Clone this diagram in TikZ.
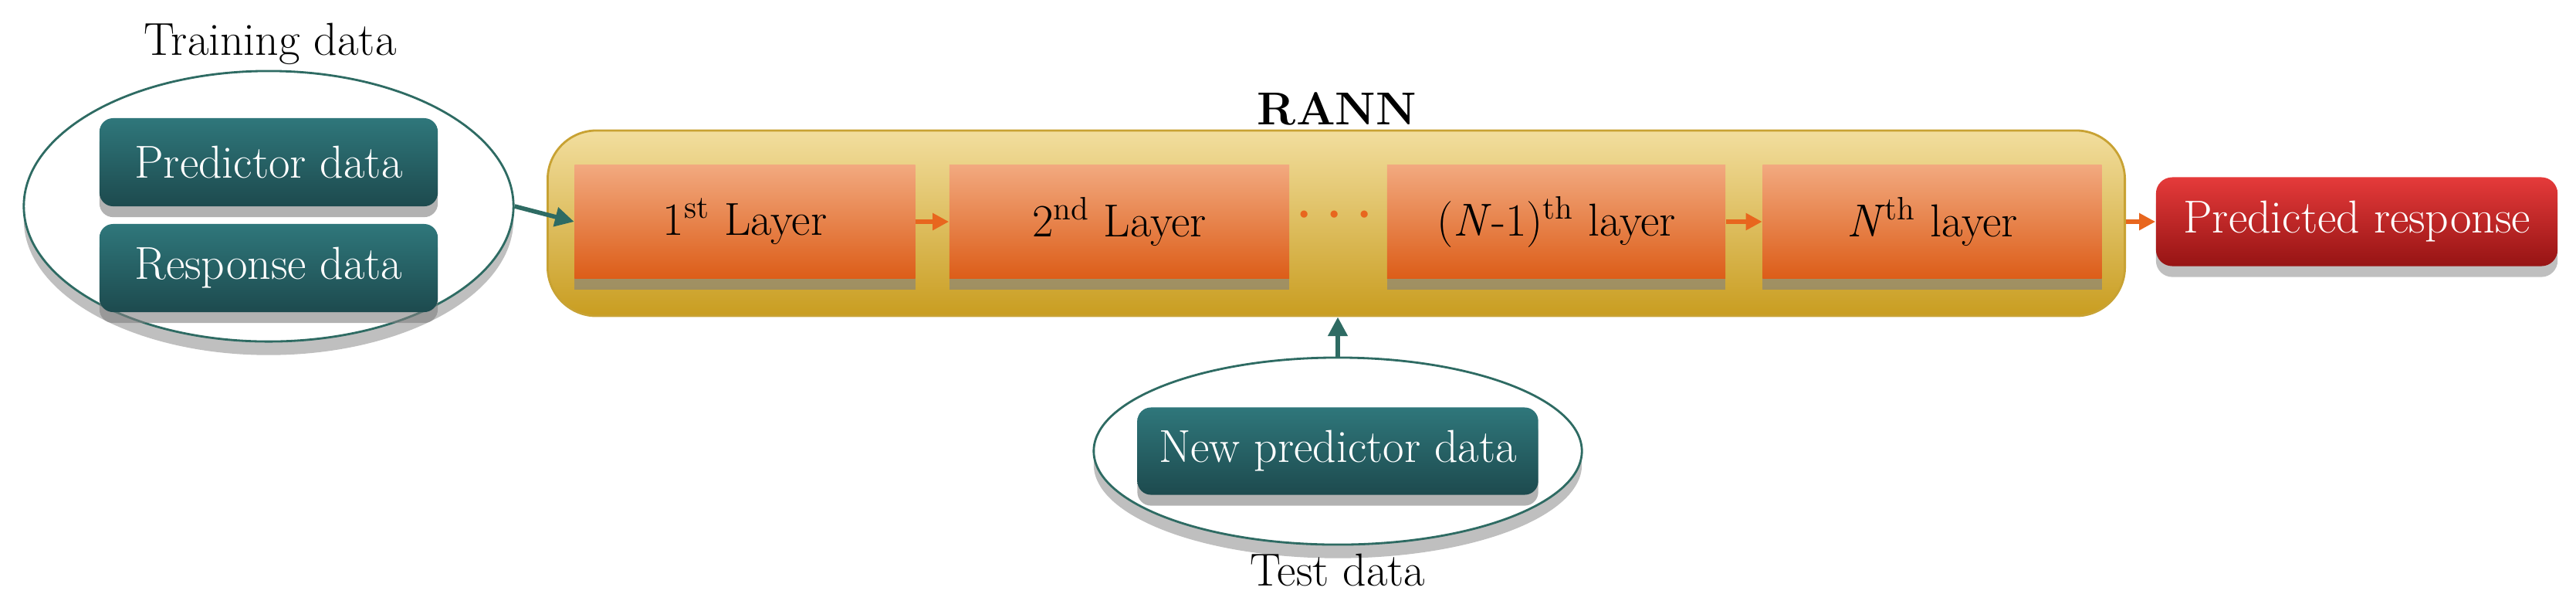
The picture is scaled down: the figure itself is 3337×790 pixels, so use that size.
\documentclass[tikz,border=0pt]{standalone}
\usetikzlibrary{shadows,arrows.meta,shapes.geometric}
\definecolor{tealT}{HTML}{2F777B}\definecolor{tealB}{HTML}{1D4A4E}
\definecolor{orT}{HTML}{F2A97F}\definecolor{orB}{HTML}{DC5D18}
\definecolor{yeT}{HTML}{F2DE9E}\definecolor{yeB}{HTML}{C99D20}\definecolor{yeD}{HTML}{C8A233}
\definecolor{rdT}{HTML}{E53A3A}\definecolor{rdB}{HTML}{961414}
\definecolor{tarr}{HTML}{2E6B63}\definecolor{oarr}{HTML}{E8661E}
\begin{document}
\begin{tikzpicture}[x=0.01cm,y=-0.01cm,
 txt/.style={font=\fontsize{17}{19}\selectfont},
 tealbox/.style={txt,text=white,rounded corners=5pt,top color=tealT,bottom color=tealB,draw=none,drop shadow={opacity=0.6,shadow xshift=0pt,shadow yshift=-4pt}},
 layer/.style={txt,top color=orT,bottom color=orB,draw=none,inner sep=0,drop shadow={opacity=0.6,shadow xshift=0pt,shadow yshift=-4pt}},
 ell/.style={ellipse,draw=tarr,line width=0.8pt,fill=white,inner sep=0,drop shadow={opacity=0.5,shadow xshift=0pt,shadow yshift=-5pt}},
 tar/.style={-{Triangle[length=7pt,width=7pt]},draw=tarr,line width=1.6pt},
 oar/.style={-{Triangle[length=6pt,width=6pt]},draw=oarr,line width=1.6pt}]
\useasboundingbox (0,0) rectangle (3337,790);
% container
\node[draw=yeD,line width=0.8pt,rounded corners=18pt,top color=yeT,bottom color=yeB,minimum width=20.42cm,minimum height=2.4cm,inner sep=0] (rann) at (1731,289) {};
\node[txt,font=\fontsize{17}{19}\selectfont\bfseries] (rannl) at (1732,141) {RANN};
% training ellipse
\node[ell,minimum width=6.34cm,minimum height=3.5cm] (tr) at (348,267) {};
\node[txt] (trl) at (350,57) {Training data};
\node[tealbox,minimum width=4.38cm,minimum height=1.14cm] (pd) at (348,210) {Predictor data};
\node[tealbox,minimum width=4.38cm,minimum height=1.14cm] (rd) at (348,347) {Response data};
% layers
\node[layer,minimum width=4.41cm,minimum height=1.47cm] (l1) at (965,287) {1\textsuperscript{st} Layer};
\node[layer,minimum width=4.40cm,minimum height=1.47cm] (l2) at (1450,287) {2\textsuperscript{nd} Layer};
\node[layer,minimum width=4.38cm,minimum height=1.47cm] (l3) at (2016,287) {(\textit{N}-1)\textsuperscript{th} layer};
\node[layer,minimum width=4.39cm,minimum height=1.47cm] (l4) at (2503,287) {\textit{N}\textsuperscript{th} layer};
\node[text=oarr,font=\fontsize{30}{30}\selectfont\bfseries] (dots) at (1729,280) {$\cdots$};
\node[txt,text=white,rounded corners=6pt,top color=rdT,bottom color=rdB,minimum width=5.2cm,minimum height=1.15cm,inner sep=0,drop shadow={opacity=0.5,shadow xshift=0pt,shadow yshift=-4pt}] (pr) at (3053,287) {Predicted response};
% test ellipse
\node[ell,minimum width=6.32cm,minimum height=2.42cm] (te) at (1733,584) {};
\node[tealbox,minimum width=5.19cm,minimum height=1.13cm] (np) at (1733,584) {New predictor data};
\node[txt] (tel) at (1733,738) {Test data};
% arrows
\draw[tar] (tr.east) -- (l1.west);
\draw[oar] (l1) -- (l2);
\draw[oar] (l3) -- (l4);
\draw[oar] (rann.east |- l4.east) -- (pr.west);
\draw[tar] (te.north) -- (te.north |- rann.south);
\end{tikzpicture}
\end{document}
